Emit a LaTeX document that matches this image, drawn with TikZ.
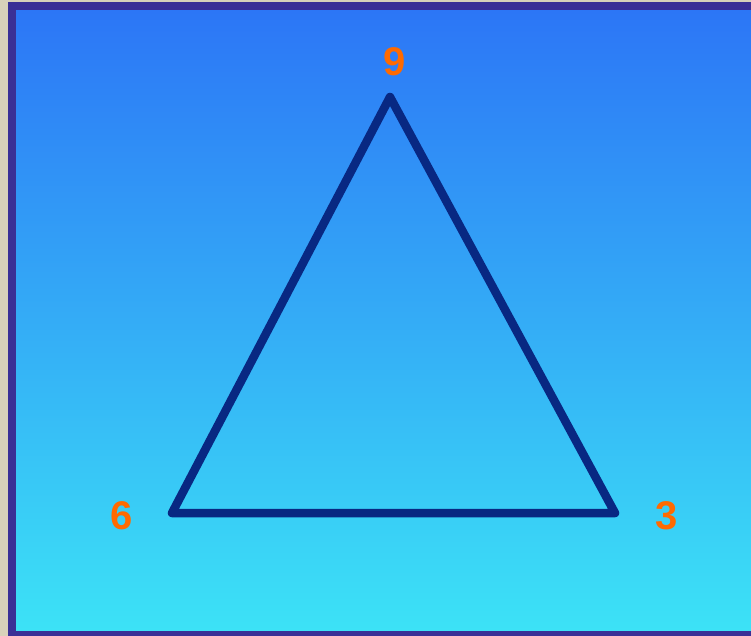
\documentclass[tikz,border=0pt]{standalone}
\usepackage{fontspec}
\setmainfont{Liberation Sans}
\definecolor{strip}{RGB}{216,210,186}
\definecolor{frame}{RGB}{58,48,150}
\definecolor{topblue}{RGB}{44,118,246}
\definecolor{botcyan}{RGB}{60,226,246}
\definecolor{navy}{RGB}{8,40,130}
\definecolor{lbl}{RGB}{255,106,0}
\tikzset{
  lab/.style={text=lbl, font=\bfseries\fontsize{40}{40}\selectfont, inner sep=0pt, anchor=center},
  edge/.style={draw=navy, line width=8.5pt, line join=round, line cap=round}
}
\begin{document}
\begin{tikzpicture}[x=1pt,y=-1pt]
\useasboundingbox (0,0) rectangle (751,636);
\fill[strip] (0,0) rectangle (751,636);
\fill[frame] (8,2) rectangle (751,636);
\shade[top color=topblue, bottom color=botcyan] (16,11) rectangle (751,630);
\coordinate (A) at (390,97);
\coordinate (B) at (172,513);
\coordinate (C) at (615,513);
\draw[edge] (A) -- (B) -- (C) -- cycle;
\node[lab] (n9) at (395,62) {9};
\node[lab] (n6) at (122,516) {6};
\node[lab] (n3) at (667,516) {3};
\end{tikzpicture}
\end{document}
